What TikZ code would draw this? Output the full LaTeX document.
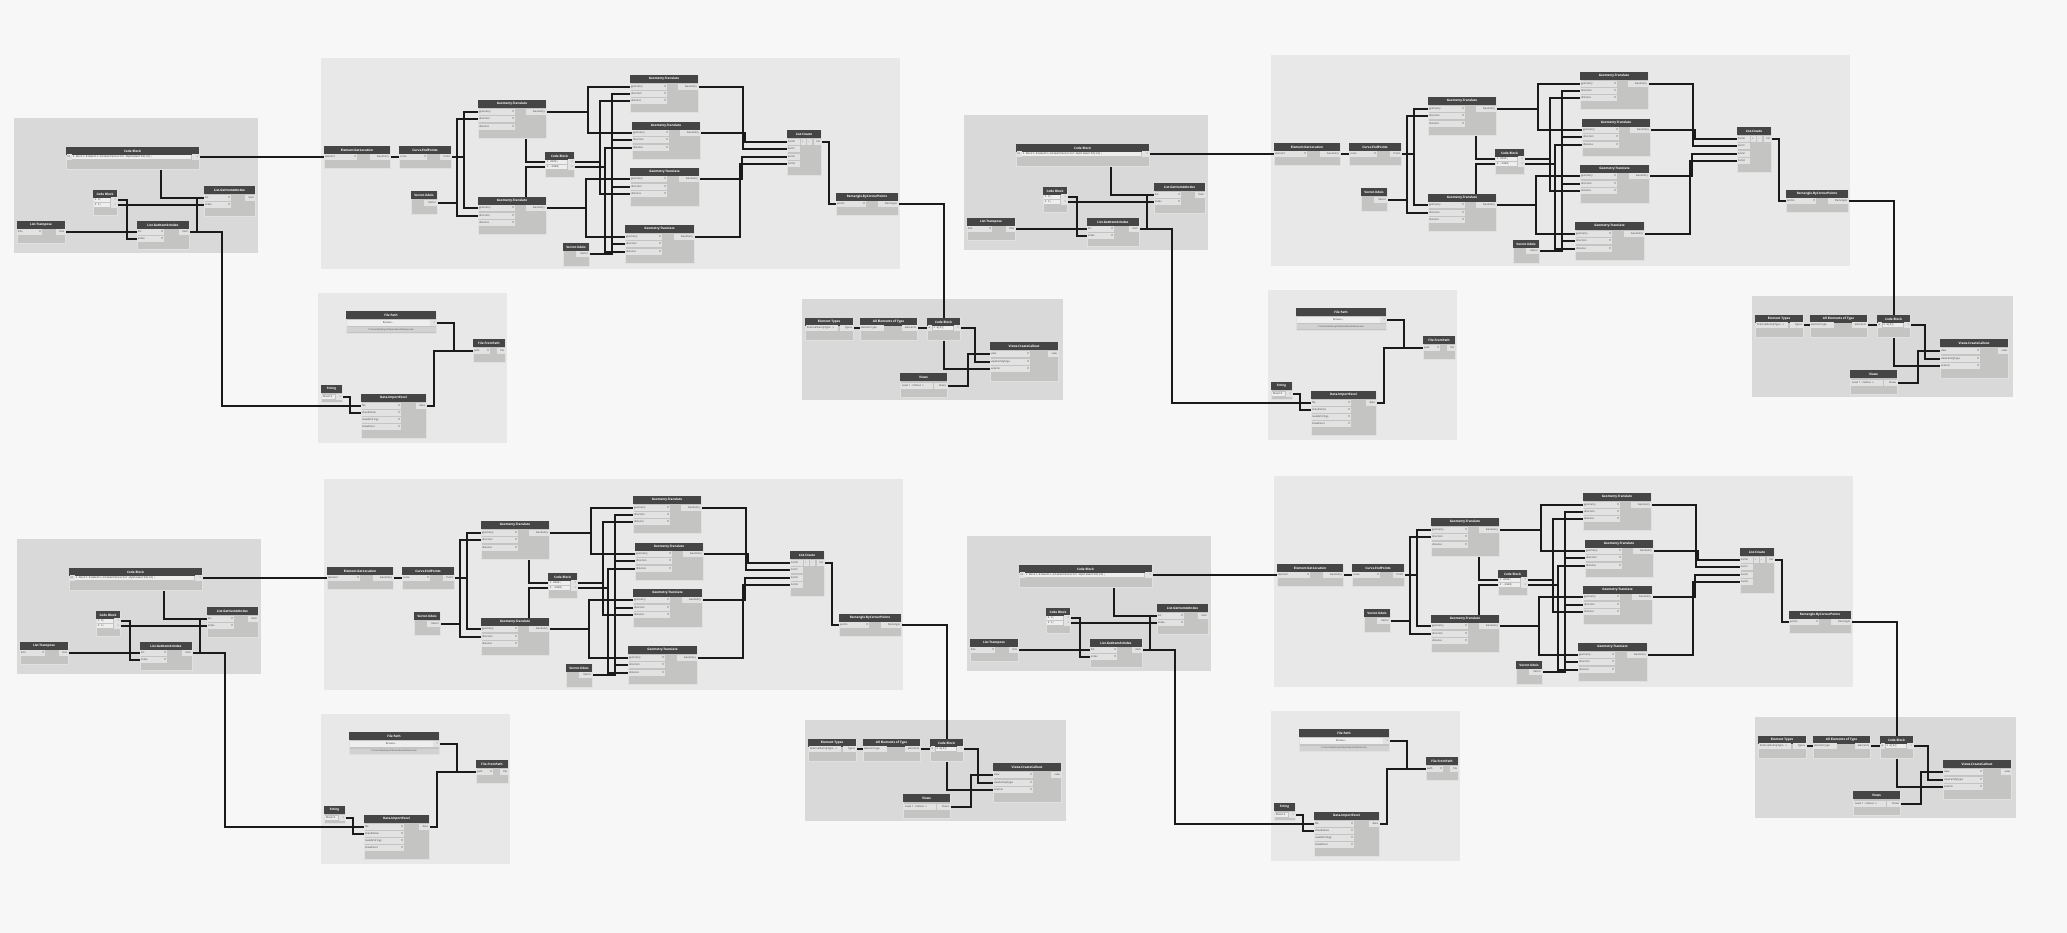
\documentclass[tikz,border=0pt]{standalone}
\usepackage{fontspec}
\setmainfont{Open Sans}
\setmonofont{Liberation Mono}
\usetikzlibrary{calc}
\pgfdeclarelayer{grp}
\pgfdeclarelayer{wir}
\pgfsetlayers{grp,wir,main}
\definecolor{bgc}{HTML}{F7F7F7}
\definecolor{grpD}{HTML}{D9D9D9}
\definecolor{grpL}{HTML}{E8E8E8}
\definecolor{hdr}{HTML}{454545}
\definecolor{bodyc}{HTML}{C4C4C2}
\definecolor{pinc}{HTML}{E2E2E2}
\definecolor{codec}{HTML}{EEEEEE}
\definecolor{pathc}{HTML}{D2D2D2}
\definecolor{wirec}{HTML}{1A1A1A}
\tikzset{
 nbody/.style={fill=bodyc, draw=white!88!black, line width=0.3pt, inner sep=0pt, outer sep=0pt},
 nhead/.style={fill=hdr, text=white, font=\fontsize{3.1}{3.1}\selectfont\bfseries, inner sep=0pt, outer sep=0pt, minimum height=8pt},
 pinbox/.style={fill=pinc, inner sep=0pt, outer sep=0pt, minimum height=5.8pt},
 codebox/.style={fill=codec, inner sep=0pt, outer sep=0pt, minimum height=4.6pt},
 plabel/.style={font=\fontsize{2.6}{2.6}\selectfont, text=black!75, inner xsep=0.8pt, inner ysep=0pt},
 clabel/.style={font=\fontsize{2.7}{2.7}\selectfont\ttfamily, text=black!75, inner xsep=0.6pt, inner ysep=0pt},
 chev/.style={font=\fontsize{3}{3}\selectfont\bfseries, inner xsep=0.7pt, inner ysep=0pt, text=black!80},
 wire/.style={draw=wirec, line width=1.1pt},
 gbox/.style={inner sep=0pt, outer sep=0pt, anchor=north west},
}
% node: name, x, y, w, h, title
\newcommand\dnode[6]{%
 \node[nbody, minimum width=#4pt, minimum height=#5pt, anchor=north west] (#1) at (#2,#3) {};
 \node[nhead, minimum width=#4pt, anchor=north west] (#1-h) at (#2,#3) {#6};}
% input with chevron: name, xleft, y, w, label
\newcommand\dinp[5]{%
 \node[pinbox, minimum width=#4pt, anchor=west] (#1) at (#2,#3) {};
 \node[plabel, anchor=west] at (#1.west) {#5};
 \node[chev, anchor=east] at (#1.east) {>};}
% plain cell: name, xleft, y, w, label
\newcommand\dcell[5]{%
 \node[pinbox, minimum width=#4pt, anchor=west] (#1) at (#2,#3) {};
 \node[plabel, anchor=west] at (#1.west) {#5};}
% code cell
\newcommand\dccell[5]{%
 \node[codebox, minimum width=#4pt, anchor=west] (#1) at (#2,#3) {};
 \node[clabel, anchor=west] at (#1.west) {#5};}
% output: name, xright, y, w, label
\newcommand\doutp[5]{%
 \node[pinbox, minimum width=#4pt, anchor=east] (#1) at (#2,#3) {};
 \node[plabel, anchor=east] at (#1.east) {#5};}
% orthogonal wire through a vertical at x
\newcommand\wv[3]{\path (#2,0) coordinate (wtmp); \draw[wire] (#1) -- (wtmp |- #1) -- (wtmp |- #3) -- (#3);}
% Geometry.Translate: name, x, y, w, h, r1, r2, r3
\newcommand\gtnode[8]{%
 \dnode{#1}{#2}{#3}{#4}{#5}{Geometry.Translate}
 \dinp{#1-g}{#2}{#6}{37}{geometry}
 \dinp{#1-d}{#2}{#7}{37}{direction}
 \dinp{#1-s}{#2}{#8}{37}{distance}
 \path (#2,0) ++(#4,0) coordinate (#1-rx);
 \node[pinbox, minimum width=20pt, anchor=east] (#1-o) at (#1-rx |- #1-g) {};
 \node[plabel, anchor=east] at (#1-o.east) {Geometry};}

\newcommand\dquad[1]{%
 \begin{pgfonlayer}{grp}
  \node[gbox, fill=grpD, minimum width=244pt, minimum height=135pt] (#1-g1) at (14,118) {};
  \node[gbox, fill=grpL, minimum width=579pt, minimum height=211pt] (#1-g2) at (321,58) {};
  \node[gbox, fill=grpL, minimum width=189pt, minimum height=150pt] (#1-g3) at (318,293) {};
  \node[gbox, fill=grpD, minimum width=261pt, minimum height=101pt] (#1-g4) at (802,299) {};
 \end{pgfonlayer}
 % ---- group 1
 \dnode{#1-cb1}{66}{147}{133}{22}{Code Block}
 \dcell{#1-cb1-i}{66.5}{157}{5}{id}
 \dccell{#1-cb1-t}{72}{157}{119}{1 Revit.Elements.ElementSelector.ByElementId(id);}
 \doutp{#1-cb1-o}{199}{157}{7}{>}
 \dnode{#1-cb2}{93}{190}{24}{25}{Code Block}
 \dccell{#1-cb2-t1}{94}{200}{16}{1 0;}
 \dccell{#1-cb2-t2}{94}{205}{16}{2 1;}
 \doutp{#1-cb2-o1}{117}{200}{6}{>}
 \doutp{#1-cb2-o2}{117}{205}{6}{>}
 \dnode{#1-lt}{17}{221}{48}{22}{List.Transpose}
 \dinp{#1-lt-i}{17}{232}{25}{lists}
 \doutp{#1-lt-o}{65}{232}{9}{lists}
 \dnode{#1-gi1}{137}{221}{52}{28}{List.GetItemAtIndex}
 \dinp{#1-gi1-l}{137}{232}{27}{list}
 \dinp{#1-gi1-x}{137}{239}{27}{index}
 \doutp{#1-gi1-o}{189}{232}{10}{item}
 \dnode{#1-gi2}{204}{186}{51}{30}{List.GetItemAtIndex}
 \dinp{#1-gi2-l}{204}{198}{27}{list}
 \dinp{#1-gi2-x}{204}{205}{27}{index}
 \doutp{#1-gi2-o}{255}{198}{10}{item}
 % ---- group 2
 \dnode{#1-egl}{324}{146}{66}{22}{Element.GetLocation}
 \dinp{#1-egl-i}{324}{157}{33}{element}
 \doutp{#1-egl-o}{390}{157}{20}{Geometry}
 \dnode{#1-cep}{399}{146}{52}{22}{Curve.EndPoints}
 \dinp{#1-cep-i}{399}{157}{28}{curve}
 \doutp{#1-cep-o}{451}{157}{11}{Point}
 \dnode{#1-vx1}{411}{191}{26}{23}{Vector.XAxis}
 \doutp{#1-vx1-o}{437}{203}{13}{Vector}
 \gtnode{#1-gtA}{478}{100}{68}{38}{112}{119}{127}
 \gtnode{#1-gtB}{478}{197}{68}{37}{208}{216}{223}
 \dnode{#1-cb3}{545}{152}{29}{25}{Code Block}
 \dccell{#1-cb3-t1}{546}{162}{21}{1 2000;}
 \dccell{#1-cb3-t2}{546}{167}{21}{2 -2000;}
 \doutp{#1-cb3-o1}{574}{162}{6}{>}
 \doutp{#1-cb3-o2}{574}{167}{6}{>}
 \dnode{#1-vx2}{563}{243}{26}{23}{Vector.XAxis}
 \doutp{#1-vx2-o}{589}{254}{13}{Vector}
 \gtnode{#1-gt1}{630}{75}{68}{37}{87}{94}{101}
 \gtnode{#1-gt2}{632}{122}{68}{37}{133}{140}{148}
 \gtnode{#1-gt3}{630}{168}{69}{38}{179}{187}{194}
 \gtnode{#1-gt4}{625}{225}{69}{38}{237}{244}{252}
 \dnode{#1-lc}{787}{130}{34}{45}{List.Create}
 \dcell{#1-lc-0}{787}{142}{13}{item0}
 \dcell{#1-lc-1}{787}{149}{13}{item1}
 \dcell{#1-lc-2}{787}{157}{13}{item2}
 \dcell{#1-lc-3}{787}{164}{13}{item3}
 \dcell{#1-lc-p}{801}{142}{5}{+}
 \dcell{#1-lc-m}{807}{142}{5}{--}
 \doutp{#1-lc-o}{821}{142}{7}{list}
 \dnode{#1-rbc}{836}{193}{62}{22}{Rectangle.ByCornerPoints}
 \dinp{#1-rbc-i}{836}{204}{30}{points}
 \doutp{#1-rbc-o}{898}{204}{20}{Rectangle}
 % ---- group 3
 \dnode{#1-fp}{346}{311}{90}{22}{File Path}
 \node[pinbox, fill=codec, minimum width=83pt, anchor=west] (#1-fp-b) at (347,323) {};
 \node[plabel] at (#1-fp-b) {Browse...};
 \doutp{#1-fp-o}{436}{323}{6}{>}
 \node[pinbox, fill=pathc, minimum width=89pt, minimum height=5pt, anchor=west] (#1-fp-p) at (346.5,330) {};
 \node[plabel, font=\fontsize{2.2}{2.2}\selectfont] at (#1-fp-p) {C:\textbackslash Users\textbackslash Desktop\textbackslash Callouts\textbackslash ExcelCallouts.xlsx};
 \dnode{#1-ffp}{473}{339}{32}{23}{File.FromPath}
 \dinp{#1-ffp-i}{473}{351}{17}{path}
 \doutp{#1-ffp-o}{505}{351}{8}{file}
 \dnode{#1-str}{321}{385}{21}{17}{String}
 \dccell{#1-str-t}{322}{397}{13}{Sheet1}
 \doutp{#1-str-o}{342}{397}{6}{>}
 \dnode{#1-die}{361}{394}{65}{44}{Data.ImportExcel}
 \dinp{#1-die-f}{361}{406}{40}{file}
 \dinp{#1-die-s}{361}{413}{40}{sheetName}
 \dinp{#1-die-r}{361}{420}{40}{readAsStrings}
 \dinp{#1-die-x}{361}{427}{40}{showExcel}
 \doutp{#1-die-o}{426}{406}{10}{data}
 % ---- group 4
 \dnode{#1-et}{805}{318}{48}{22}{Element Types}
 \dcell{#1-et-d}{806}{328}{32}{ExternalFamilyType \ \ v}
 \doutp{#1-et-o}{853}{328}{13}{Types}
 \dnode{#1-aet}{860}{318}{57}{22}{All Elements of Type}
 \dcell{#1-aet-i}{860}{328}{24}{element type}
 \doutp{#1-aet-o}{917}{328}{15}{elements}
 \dnode{#1-cb4}{927}{318}{33}{22}{Code Block}
 \dcell{#1-cb4-i}{927.5}{328}{4}{a}
 \dccell{#1-cb4-t}{932.5}{328}{20}{1 a[0];}
 \doutp{#1-cb4-o}{960}{328}{6}{>}
 \dnode{#1-vcc}{990}{342}{68}{39}{Views.CreateCallout}
 \dinp{#1-vcc-v}{990}{354}{40}{view}
 \dinp{#1-vcc-t}{990}{362}{40}{viewFamilyType}
 \dinp{#1-vcc-e}{990}{369}{40}{extents}
 \doutp{#1-vcc-o}{1058}{354}{10}{view}
 \dnode{#1-vw}{900}{373}{47}{24}{Views}
 \dcell{#1-vw-d}{901}{386}{32}{Level 1 - Callout \ v}
 \doutp{#1-vw-o}{947}{386}{13}{Views}
 % ---- wires
 \begin{pgfonlayer}{wir}
  \draw[wire] (#1-cb1-o.east) -- (#1-egl-i.west);
  \path (161,0) coordinate (wtmp);
  \draw[wire] (wtmp |- #1-cb1.south) -- (wtmp |- #1-gi2-l.west) -- (#1-gi2-l.west);
  \wv{#1-cb2-o1.east}{127}{#1-gi1-x.west}
  \draw[wire] (#1-cb2-o2.east) -- (#1-gi2-x.west);
  \draw[wire] (#1-lt-o.east) -- (#1-gi1-l.west);
  \wv{#1-gi1-o.east}{197}{#1-gi2-l.west}
  \wv{#1-gi1-o.east}{222}{#1-die-f.west}
  \draw[wire] (#1-egl-o.east) -- (#1-cep-i.west);
  \wv{#1-cep-o.east}{464}{#1-gtA-g.west}
  \wv{#1-cep-o.east}{464}{#1-gtB-g.west}
  \wv{#1-vx1-o.east}{457}{#1-gtA-d.west}
  \wv{#1-vx1-o.east}{457}{#1-gtB-d.west}
  \path (526,0) coordinate (wtmp);
  \draw[wire] (#1-cb3.west |- #1-cb3-o1) -- (wtmp |- #1-cb3-o1) -- (wtmp |- #1-gtA.south);
  \draw[wire] (#1-cb3.west |- #1-cb3-o2) -- (wtmp |- #1-cb3-o2) -- (wtmp |- #1-gtB.north);
  \wv{#1-gtA-o.east}{588}{#1-gt1-g.west}
  \wv{#1-gtA-o.east}{588}{#1-gt2-g.west}
  \wv{#1-gtB-o.east}{586}{#1-gt3-g.west}
  \wv{#1-gtB-o.east}{586}{#1-gt4-g.west}
  \wv{#1-cb3-o1.east}{600}{#1-gt1-s.west}
  \wv{#1-cb3-o1.east}{600}{#1-gt3-s.west}
  \wv{#1-cb3-o2.east}{605}{#1-gt2-s.west}
  \wv{#1-cb3-o2.east}{605}{#1-gt4-s.west}
  \wv{#1-vx2-o.east}{612}{#1-gt1-d.west}
  \wv{#1-vx2-o.east}{612}{#1-gt2-d.west}
  \wv{#1-vx2-o.east}{612}{#1-gt3-d.west}
  \wv{#1-vx2-o.east}{612}{#1-gt4-d.west}
  \wv{#1-gt1-o.east}{743}{#1-lc-1.west}
  \wv{#1-gt2-o.east}{745}{#1-lc-0.west}
  \wv{#1-gt3-o.east}{742}{#1-lc-2.west}
  \wv{#1-gt4-o.east}{740}{#1-lc-3.west}
  \wv{#1-lc-o.east}{829}{#1-rbc-i.west}
  \wv{#1-rbc-o.east}{944}{#1-vcc-e.west}
  \wv{#1-fp-o.east}{454}{#1-ffp-i.west}
  \wv{#1-die-o.east}{434}{#1-ffp-i.west}
  \wv{#1-str-o.east}{350}{#1-die-s.west}
  \draw[wire] (#1-et-o.east) -- (#1-aet-i.west);
  \draw[wire] (#1-aet-o.east) -- (#1-cb4-i.west);
  \wv{#1-cb4-o.east}{975}{#1-vcc-t.west}
  \wv{#1-vw-o.east}{968}{#1-vcc-v.west}
 \end{pgfonlayer}
}

\begin{document}
\begin{tikzpicture}[x=1pt,y=-1pt]
\begin{pgfonlayer}{grp}
 \fill[bgc] (0,0) rectangle (2067,933);
\end{pgfonlayer}
\useasboundingbox (0,0) rectangle (2067,933);
\begin{scope}\dquad{qa}\end{scope}
\begin{scope}[shift={(950,-3)}]\dquad{qb}\end{scope}
\begin{scope}[shift={(3,421)}]\dquad{qc}\end{scope}
\begin{scope}[shift={(953,418)}]\dquad{qd}\end{scope}
\end{tikzpicture}
\end{document}
